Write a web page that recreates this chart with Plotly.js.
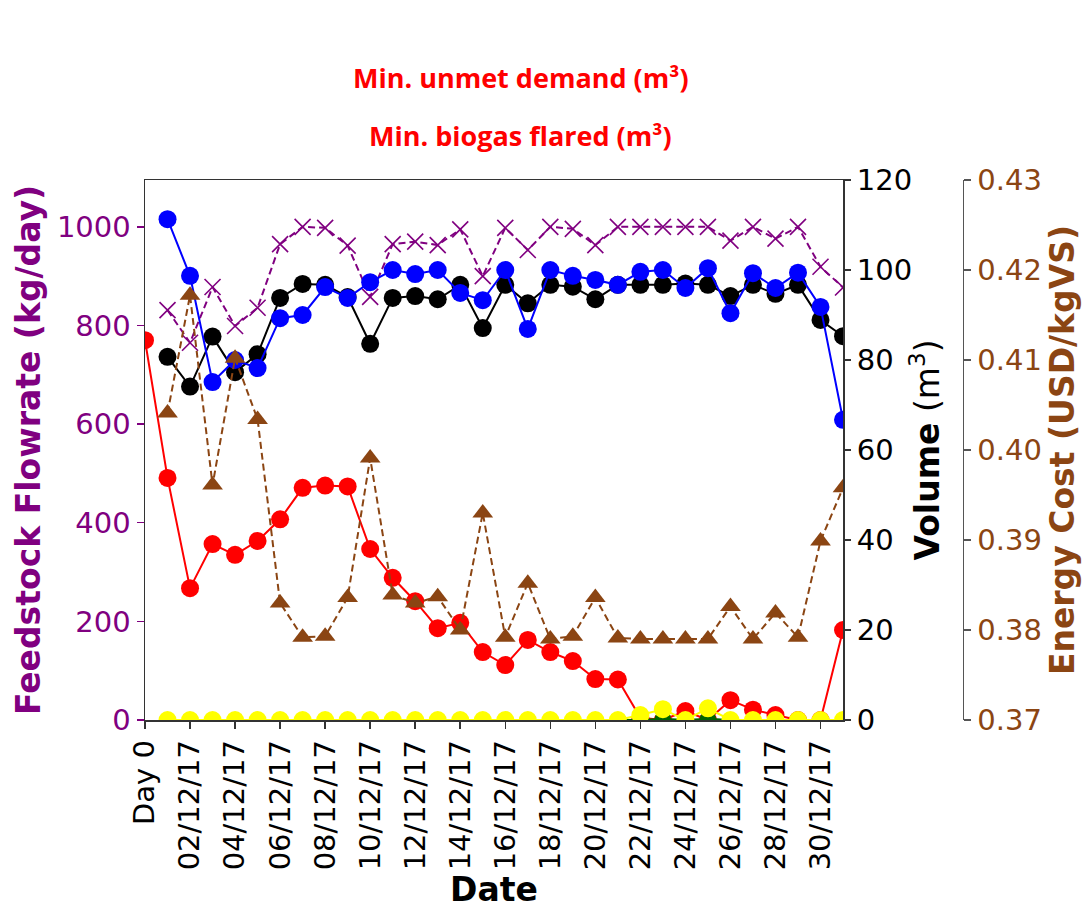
<!DOCTYPE html>
<html>
<head>
<meta charset="utf-8">
<script src="https://cdn.plot.ly/plotly-3.0.1.min.js"></script>
<style>html,body{margin:0;padding:0;background:#fff;}#chart{width:1082px;height:909px;}</style>
</head>
<body>
<div id="chart"></div>
<script>
const dates = ["Day 0","01/12/17","02/12/17","03/12/17","04/12/17","05/12/17","06/12/17","07/12/17","08/12/17","09/12/17","10/12/17","11/12/17","12/12/17","13/12/17","14/12/17","15/12/17","16/12/17","17/12/17","18/12/17","19/12/17","20/12/17","21/12/17","22/12/17","23/12/17","24/12/17","25/12/17","26/12/17","27/12/17","28/12/17","29/12/17","30/12/17","31/12/17"];
const tickDates = ["Day 0","02/12/17","04/12/17","06/12/17","08/12/17","10/12/17","12/12/17","14/12/17","16/12/17","18/12/17","20/12/17","22/12/17","24/12/17","26/12/17","28/12/17","30/12/17"];

// Feedstock flowrate (kg/day)
const feedstock = [null, 831, 765, 878, 799, 836, 965, 1000, 998, 962, 858, 965, 970, 963, 995, 900, 998, 953, 1000, 996, 963, 1000, 1000, 1000, 1000, 1000, 972, 1000, 976, 1000, 919, 877];
// Volume series (m3)
const volumeBlue = [null, 111.3, 98.7, 75.1, 80.0, 78.2, 89.3, 90.0, 96.2, 93.8, 97.3, 100.0, 99.1, 100.0, 94.9, 93.3, 100.0, 86.9, 100.0, 98.7, 97.8, 96.7, 99.6, 100.0, 96.0, 100.4, 90.4, 99.3, 96.0, 99.4, 91.8, 66.7];
const volumeBlack = [null, 80.7, 74.1, 85.2, 77.3, 81.3, 93.8, 96.9, 96.7, 94.0, 83.6, 93.8, 94.2, 93.5, 96.7, 87.1, 96.7, 92.6, 96.7, 96.3, 93.5, 96.7, 96.7, 96.7, 97.0, 96.7, 94.2, 96.7, 94.7, 96.7, 88.9, 85.3];
const volumeRed = [84.4, 53.8, 29.3, 39.1, 36.7, 39.8, 44.6, 51.6, 52.1, 51.9, 38.0, 31.6, 26.4, 20.4, 21.6, 15.1, 12.2, 17.8, 15.1, 13.1, 9.1, 9.0, 0.5, 0, 2.0, 0, 4.4, 2.3, 1.1, 0, 0, 20.0];
const volumeGreen = [null, 0, 0, 0, 0, 0, 0, 0, 0, 0, 0, 0, 0, 0, 0, 0, 0, 0, 0, 0, 0, 0, 0, 0.3, 0, 0.3, 0, 0, 0, 0, 0, 0];
const volumeYellow = [null, 0, 0, 0, 0, 0, 0, 0, 0, 0, 0, 0, 0, 0, 0, 0, 0, 0, 0, 0, 0, 0, 1.1, 2.4, 0, 2.6, 0, 0, 0, 0, 0, 0];
// Energy cost (USD/kgVS)
const energyCost = [null, 0.4041, 0.4172, 0.3961, 0.4102, 0.4034, 0.3830, 0.3792, 0.3793, 0.3836, 0.3991, 0.3839, 0.3830, 0.3837, 0.3800, 0.3930, 0.3792, 0.3852, 0.3790, 0.3793, 0.3836, 0.3791, 0.3790, 0.3790, 0.3790, 0.3790, 0.3826, 0.3790, 0.3819, 0.3792, 0.3899, 0.3958];

const DASH = "7px,4px";
const traces = [
  {x: dates, y: feedstock, yaxis: 'y', mode: 'lines+markers', type: 'scatter',
   line: {color: 'purple', width: 2, dash: DASH},
   marker: {symbol: 'x-thin', size: 16, line: {color: 'purple', width: 1.6}, color: 'purple'}},
  {x: dates, y: volumeBlack, yaxis: 'y2', mode: 'lines+markers', type: 'scatter',
   line: {color: 'black', width: 2}, marker: {symbol: 'circle', size: 18, color: 'black'}},
  {x: dates, y: volumeBlue, yaxis: 'y2', mode: 'lines+markers', type: 'scatter',
   line: {color: 'blue', width: 2}, marker: {symbol: 'circle', size: 18, color: 'blue'}},
  {x: dates, y: volumeRed, yaxis: 'y2', mode: 'lines+markers', type: 'scatter',
   line: {color: 'red', width: 2}, marker: {symbol: 'circle', size: 18, color: 'red'}},
  {x: dates, y: volumeGreen, yaxis: 'y2', mode: 'lines+markers', type: 'scatter',
   line: {color: 'darkgreen', width: 2}, marker: {symbol: 'circle', size: 16, color: 'darkgreen'}},
  {x: dates, y: volumeYellow, yaxis: 'y2', mode: 'lines+markers', type: 'scatter',
   line: {color: 'yellow', width: 2}, marker: {symbol: 'circle', size: 18, color: 'yellow'}},
  {x: dates, y: energyCost, yaxis: 'y3', mode: 'lines+markers', type: 'scatter',
   line: {color: '#8B4513', width: 2, dash: DASH},
   marker: {symbol: 'triangle-up', size: 18, color: '#8B4513'}}
];

const tickFont = {family: 'DejaVu Sans', size: 29};
const layout = {
  width: 1082, height: 909,
  paper_bgcolor: 'white', plot_bgcolor: 'white',
  showlegend: false,
  margin: {l: 145, r: 10, t: 180, b: 189},
  xaxis: {
    domain: [0, 0.753],
    type: 'category', categoryorder: 'array', categoryarray: dates,
    range: [0, 31],
    tickmode: 'array', tickvals: tickDates, ticktext: tickDates,
    tickangle: -90, tickfont: Object.assign({color: 'black'}, tickFont),
    ticks: 'outside', ticklen: 7, tickwidth: 1.5, tickcolor: '#333',
    showline: true, linecolor: '#333', linewidth: 1.5, mirror: true,
    showgrid: false, zeroline: false,
    title: {text: 'Date', font: {family: 'DejaVu Sans', size: 33, color: 'black', weight: 'bold'}, standoff: 12}
  },
  yaxis: {
    range: [0, 1095], tickvals: [0, 200, 400, 600, 800, 1000],
    tickfont: Object.assign({color: 'purple'}, tickFont),
    ticks: 'outside', ticklen: 7, tickwidth: 1.5, tickcolor: 'purple',
    showline: true, linecolor: '#333', linewidth: 1.5, mirror: true,
    showgrid: false, zeroline: false,
    title: {text: 'Feedstock Flowrate (kg/day)', font: {family: 'DejaVu Sans', size: 33, color: 'purple', weight: 'bold'}, standoff: 6}
  },
  yaxis2: {
    overlaying: 'y', side: 'right', anchor: 'x',
    range: [0, 120], tickvals: [0, 20, 40, 60, 80, 100, 120],
    tickfont: Object.assign({color: 'black'}, tickFont),
    ticks: 'outside', ticklen: 7, tickwidth: 1.5, tickcolor: '#333',
    showline: false, showgrid: false, zeroline: false,
    title: {text: '<b>Volume</b> (m<sup>3</sup>)', font: {family: 'DejaVu Sans', size: 33, color: 'black'}, standoff: 4}
  },
  yaxis3: {
    overlaying: 'y', side: 'right', anchor: 'free', position: 0.8824,
    range: [0.37, 0.43], tickvals: [0.37, 0.38, 0.39, 0.40, 0.41, 0.42, 0.43], tickformat: '.2f',
    tickfont: Object.assign({color: '#8B4513'}, tickFont),
    ticks: 'outside', ticklen: 7, tickwidth: 1.5, tickcolor: '#555',
    showline: true, linecolor: '#555', linewidth: 1.5,
    showgrid: false, zeroline: false,
    title: {text: 'Energy Cost (USD/kgVS)', font: {family: 'DejaVu Sans', size: 33, color: '#8B4513', weight: 'bold'}, standoff: 10}
  },
  annotations: [
    {text: 'Min. unmet demand (m³)', xref: 'paper', yref: 'paper', x: 0.4056, y: 1.189,
     xanchor: 'center', yanchor: 'middle', showarrow: false,
     font: {family: 'Open Sans', size: 27, color: 'red', weight: 'bold'}},
    {text: 'Min. biogas flared (m³)', xref: 'paper', yref: 'paper', x: 0.4056, y: 1.083,
     xanchor: 'center', yanchor: 'middle', showarrow: false,
     font: {family: 'Open Sans', size: 27, color: 'red', weight: 'bold'}}
  ]
};

Plotly.newPlot('chart', traces, layout, {displayModeBar: false, staticPlot: true});
</script>
</body>
</html>
